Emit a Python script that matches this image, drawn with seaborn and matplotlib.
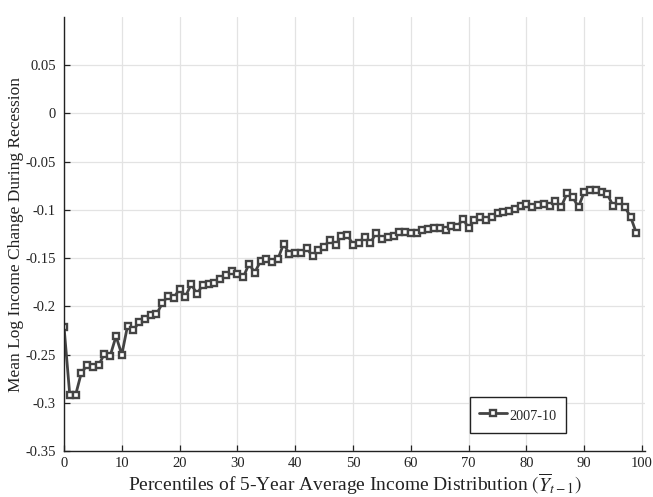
import numpy as np
import pandas as pd
import matplotlib
matplotlib.use("Agg")
import matplotlib.pyplot as plt
import seaborn as sns

percentiles = list(range(100))
income_change = [
    -0.221, -0.292, -0.292, -0.269, -0.261, -0.263, -0.261, -0.249, -0.251, -0.231,
    -0.250, -0.220, -0.225, -0.216, -0.213, -0.209, -0.208, -0.197, -0.189, -0.191,
    -0.182, -0.190, -0.177, -0.187, -0.178, -0.177, -0.176, -0.172, -0.167, -0.163,
    -0.166, -0.170, -0.156, -0.165, -0.153, -0.151, -0.154, -0.151, -0.135, -0.146,
    -0.145, -0.145, -0.140, -0.148, -0.142, -0.138, -0.131, -0.136, -0.127, -0.126,
    -0.136, -0.134, -0.128, -0.134, -0.124, -0.130, -0.128, -0.127, -0.123, -0.123,
    -0.124, -0.124, -0.121, -0.120, -0.119, -0.119, -0.121, -0.117, -0.118, -0.109,
    -0.119, -0.110, -0.107, -0.110, -0.107, -0.103, -0.102, -0.101, -0.099, -0.096,
    -0.094, -0.097, -0.095, -0.094, -0.096, -0.091, -0.097, -0.083, -0.087, -0.097,
    -0.081, -0.0795, -0.0795, -0.081, -0.084, -0.096, -0.091, -0.097, -0.107, -0.124,
]
series_label = "2007-10"
x_ticks = [0, 10, 20, 30, 40, 50, 60, 70, 80, 90, 100]
y_ticks = [-0.35, -0.3, -0.25, -0.2, -0.15, -0.1, -0.05, 0, 0.05]
y_tick_labels = ["-0.35", "-0.3", "-0.25", "-0.2", "-0.15", "-0.1", "-0.05", "0", "0.05"]

df = pd.DataFrame({"pct": percentiles, "chg": income_change, "series": series_label})

sns.set_style("whitegrid")
plt.rcParams["font.family"] = ["Liberation Serif", "DejaVu Serif"]
plt.rcParams["mathtext.fontset"] = "stix"

fig = plt.figure(figsize=(6.53, 4.97), dpi=100)
ax = fig.add_axes([64 / 653, 1 - 451 / 497, (645 - 64) / 653, (451 - 17) / 497])

sns.lineplot(data=df, x="pct", y="chg", hue="series", palette=["#444444"],
             marker="s", markersize=5, markerfacecolor="white",
             markeredgecolor="#444444", markeredgewidth=1.7,
             linewidth=2.0, ax=ax)

ax.set_xlim(0, 100.5)
ax.set_ylim(-0.35, 0.1)
ax.set_xticks(x_ticks)
ax.set_xticklabels([str(t) for t in x_ticks])
ax.set_yticks(y_ticks)
ax.set_yticklabels(y_tick_labels)

ax.grid(True, color="#e3e3e3", linewidth=0.9)
for s in ["top", "right"]:
    ax.spines[s].set_visible(False)
for s in ["left", "bottom"]:
    ax.spines[s].set_visible(True)
    ax.spines[s].set_color("#222222")
    ax.spines[s].set_linewidth(1.0)
ax.tick_params(axis="both", direction="in", length=4, width=0.9, color="#222222",
               labelsize=10.5, labelcolor="#222222", left=True, bottom=True)
ax.tick_params(axis="x", pad=4.5)
ax.tick_params(axis="y", pad=6)

ax.set_xlabel(r"Percentiles of 5-Year Average Income Distribution $(\overline{Y}_{t-1})$",
              fontsize=14, color="#222222")
ax.xaxis.set_label_coords(0.5, -0.046)
ax.set_ylabel("Mean Log Income Change During Recession", fontsize=12.5,
              color="#222222")
ax.yaxis.set_label_coords(-0.069, 0.5)

leg = ax.legend(loc="lower right", bbox_to_anchor=(566 / 653, (497 - 433) / 497),
                bbox_transform=fig.transFigure, frameon=True, fancybox=False,
                fontsize=10.3, borderpad=0.65, handlelength=2.0, handletextpad=0.15,
                handleheight=1.5, borderaxespad=0)
leg.get_frame().set_edgecolor("#222222")
leg.get_frame().set_linewidth(1.0)
leg.get_frame().set_alpha(1)

fig.savefig("out.png", dpi=100)
